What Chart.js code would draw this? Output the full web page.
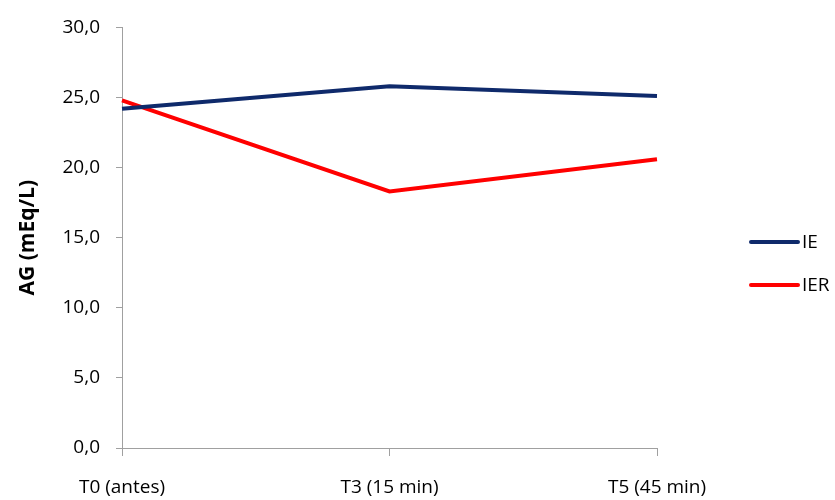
<!DOCTYPE html>
<html>
<head>
<meta charset="utf-8">
<script src="https://cdn.jsdelivr.net/npm/chart.js@4/dist/chart.umd.min.js"></script>
<style>
  html, body { margin: 0; padding: 0; background: #fff; }
  #wrap { width: 835px; height: 500px; position: relative; }
</style>
</head>
<body>
<div id="wrap"><canvas id="c" width="835" height="500"></canvas></div>
<script>
const categories = ['T0 (antes)', 'T3 (15 min)', 'T5 (45 min)'];
const seriesIE = [24.2, 25.8, 25.1];
const seriesIER = [24.8, 18.3, 20.6];
const yTicks = [0, 5, 10, 15, 20, 25, 30];

const FONT = '"Open Sans", "DejaVu Sans", sans-serif';
const AXIS_GRAY = '#a0a0a0';

// Legend drawn at the right of the plot, line sample followed by series name
const sideLegend = {
  id: 'sideLegend',
  afterDraw(chart) {
    const ctx = chart.ctx;
    const rows = [242, 285];
    ctx.save();
    chart.data.datasets.forEach((ds, i) => {
      const y = rows[i];
      ctx.strokeStyle = ds.borderColor;
      ctx.lineWidth = 4;
      ctx.lineCap = 'round';
      ctx.beginPath();
      ctx.moveTo(751, y);
      ctx.lineTo(798, y);
      ctx.stroke();
      ctx.fillStyle = '#000';
      ctx.font = '19px ' + FONT;
      ctx.textBaseline = 'middle';
      ctx.textAlign = 'left';
      ctx.fillText(ds.label, 802, y + 1);
    });
    ctx.restore();
  }
};

new Chart(document.getElementById('c'), {
  type: 'line',
  data: {
    labels: categories,
    datasets: [
      { label: 'IE', data: seriesIE, borderColor: '#0f2a6b', borderWidth: 4, pointRadius: 0, tension: 0, fill: false },
      { label: 'IER', data: seriesIER, borderColor: '#ff0000', borderWidth: 4, pointRadius: 0, tension: 0, fill: false }
    ]
  },
  options: {
    responsive: false,
    animation: false,
    layout: { padding: { left: 0, right: 178, top: 24, bottom: 0 } },
    plugins: { legend: { display: false }, tooltip: { enabled: false } },
    scales: {
      x: {
        offset: false,
        grid: { display: true, drawOnChartArea: false, drawTicks: true, tickLength: 8, color: AXIS_GRAY, lineWidth: 1 },
        border: { display: true, color: AXIS_GRAY, width: 1 },
        ticks: { color: '#000', font: { family: FONT, size: 19 }, padding: 20, maxRotation: 0, autoSkip: false },
        afterFit(scale) { scale.height = 52; }
      },
      y: {
        min: 0,
        max: 30,
        afterBuildTicks(scale) { scale.ticks = yTicks.map(v => ({ value: v })); },
        grid: { display: true, drawOnChartArea: false, drawTicks: true, tickLength: 6, color: AXIS_GRAY, lineWidth: 1 },
        border: { display: true, color: AXIS_GRAY, width: 1 },
        ticks: {
          color: '#000',
          font: { family: FONT, size: 19 },
          padding: 16,
          callback: v => Number(v).toFixed(1).replace('.', ',')
        },
        title: {
          display: true,
          text: 'AG (mEq/L)',
          color: '#000',
          font: { family: FONT, size: 21, weight: 'bold' },
          padding: { top: 15, bottom: 6 }
        },
        afterFit(scale) { scale.width = 122; }
      }
    }
  },
  plugins: [sideLegend]
});
</script>
</body>
</html>
